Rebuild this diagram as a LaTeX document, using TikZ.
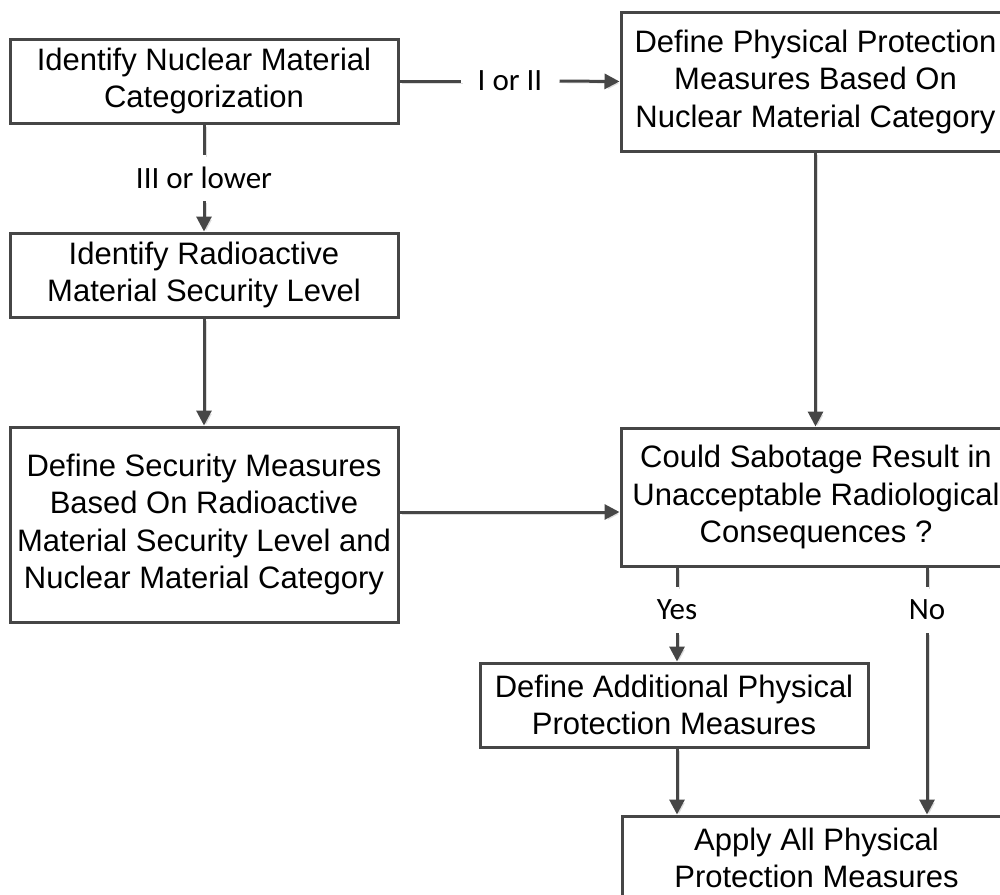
\documentclass[tikz,border=0pt]{standalone}
\usepackage{fontspec}
\setmainfont{Liberation Sans}
\newfontfamily\labfont{Carlito}
\usetikzlibrary{arrows.meta}
\definecolor{ln}{HTML}{464646}
\definecolor{shd}{HTML}{DDDDDD}
\begin{document}
\begin{tikzpicture}[x=1pt,y=-1pt,
  box/.style={draw=ln, line width=3pt, fill=white, align=center, inner sep=0pt,
    font=\fontsize{31}{37.5}\selectfont},
  conn/.style={draw=ln, line width=3pt, -{Triangle[length=15pt,width=15pt]},
    preaction={draw=shd, transform canvas={shift={(2pt,-2pt)}}}},
  plain/.style={draw=ln, line width=3pt,
    preaction={draw=shd, transform canvas={shift={(2pt,-2pt)}}}},
  lab/.style={font=\labfont\fontsize{31}{37}\selectfont, inner sep=0pt}]
\useasboundingbox (0,0) rectangle (1000,894);
\fill[white] (0,0) rectangle (1000,894);
\clip (0,0) rectangle (1000,894);

% labels
\node[lab, inner xsep=17pt] (l1) at (510,81) {I or II};
\node[lab, minimum height=46pt] (l2) at (204,178) {III or lower};
\node[lab, minimum height=46pt] (l3) at (677,610) {Yes};
\node[lab, minimum height=46pt] (l4) at (927,610) {No};

% boxes
\node[box, minimum width=388, minimum height=84] (a) at (204,81)
  {Identify Nuclear Material\\Categorization};
\node[box, minimum width=389, minimum height=139] (b) at (815.5,81.5)
  {Define Physical Protection\\Measures Based On\\Nuclear Material Category};
\node[box, minimum width=388, minimum height=84] (c) at (204,275)
  {Identify Radioactive\\Material Security Level};
\node[box, minimum width=388, minimum height=195] (d) at (204,524.5)
  {Define Security Measures\\Based On Radioactive\\Material Security Level and\\Nuclear Material Category};
\node[box, minimum width=390, minimum height=138] (e) at (816,497)
  {Could Sabotage Result in\\Unacceptable Radiological\\Consequences ?};
\node[box, minimum width=388, minimum height=84] (f) at (674,705)
  {Define Additional Physical\\Protection Measures};
\node[box, minimum width=389, minimum height=84] (g) at (816.5,858)
  {Apply All Physical\\Protection Measures};

% connectors
\draw[plain] (a.east) -- (l1.west);
\draw[conn] (l1.east) -- (b.west);
\draw[plain] (a.south) -- (l2.north);
\draw[conn] (l2.south) -- (c.north);
\draw[conn] (c.south) -- (d.north);
\draw[conn] (d.east |- 0,512) -- (e.west |- 0,512);
\draw[conn] (b.south) -- (b.south |- e.north);
\draw[plain] (l3 |- e.south) -- (l3.north);
\draw[conn] (l3.south) -- (l3 |- f.north);
\draw[plain] (l4 |- e.south) -- (l4.north);
\draw[conn] (l4.south) -- (l4 |- g.north);
\draw[conn] (l3 |- f.south) -- (l3 |- g.north);
\end{tikzpicture}
\end{document}
